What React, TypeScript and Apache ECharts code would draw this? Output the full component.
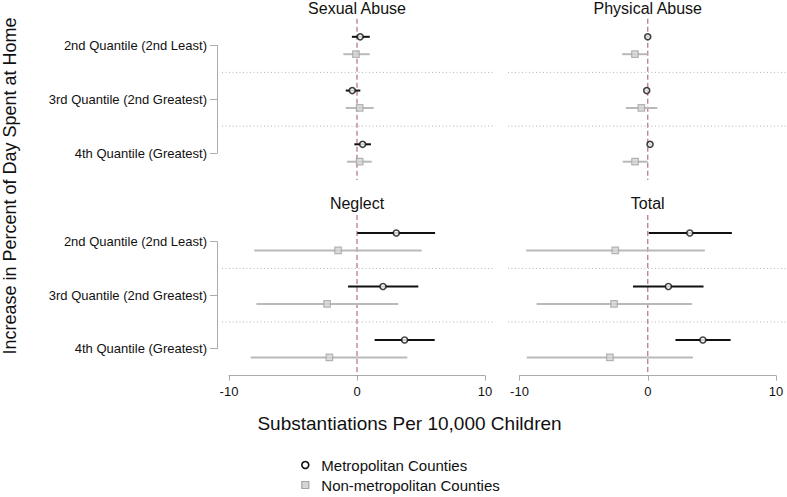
import React, { useEffect, useRef } from 'react';
import * as echarts from 'echarts';

const rowLabels = ['2nd Quantile (2nd Least)', '3rd Quantile (2nd Greatest)', '4th Quantile (Greatest)'];
const panelTitles = ['Sexual Abuse', 'Physical Abuse', 'Neglect', 'Total'];
const xTicks = [-10, 0, 10];
const seriesNames = ['Metropolitan Counties', 'Non-metropolitan Counties'];
const separators = [0.5, 1.5];

// [estimate, lower, upper] for each quantile row
const sexualMetro = [[0.25, -0.4, 1.0], [-0.37, -0.88, 0.26], [0.44, -0.21, 1.09]];
const sexualNonMetro = [[-0.08, -1.07, 0.99], [0.21, -0.88, 1.3], [0.21, -0.78, 1.15]];
const physicalMetro = [[0.0, -0.12, 0.12], [-0.08, -0.2, 0.05], [0.18, 0.06, 0.3]];
const physicalNonMetro = [[-1.0, -2.0, 0.0], [-0.5, -1.7, 0.75], [-0.99, -1.95, 0.0]];
const neglectMetro = [[3.07, 0.02, 6.1], [2.03, -0.7, 4.79], [3.72, 1.38, 6.07]];
const neglectNonMetro = [[-1.48, -8.02, 5.05], [-2.34, -7.86, 3.23], [-2.16, -8.3, 3.93]];
const totalMetro = [[3.28, 0.08, 6.56], [1.61, -1.15, 4.35], [4.3, 2.16, 6.46]];
const totalNonMetro = [[-2.53, -9.48, 4.45], [-2.63, -8.67, 3.46], [-2.95, -9.43, 3.52]];

const FONT = '"Liberation Sans", Arial, Helvetica, sans-serif';

export default function App() {
  const ref = useRef<HTMLDivElement>(null);
  useEffect(() => {
    const chart = echarts.init(ref.current!, null, { renderer: 'svg' });
    const panels = [
      { metro: sexualMetro, non: sexualNonMetro },
      { metro: physicalMetro, non: physicalNonMetro },
      { metro: neglectMetro, non: neglectNonMetro },
      { metro: totalMetro, non: totalNonMetro },
    ];
    const grids = [
      { left: 229, top: 45.5, width: 256, height: 107.5 },
      { left: 519.5, top: 45.5, width: 256.5, height: 107.5 },
      { left: 229, top: 241.7, width: 256, height: 107 },
      { left: 519.5, top: 241.7, width: 256.5, height: 107 },
    ];
    const sepExt = [[7, 8], [11.5, 11], [7, 8], [11.5, 11]];
    const xMin = xTicks[0];
    const xMax = xTicks[xTicks.length - 1];
    const off = 8.7;
    const metroColor = '#111';
    const nonLine = '#b9b9b9';
    const nonBorder = '#a4a4a4';
    const nonFill = '#d6d6d6';

    const xAxis = grids.map((g, i) => ({
      gridIndex: i,
      type: 'value',
      min: xMin,
      max: xMax,
      interval: 10,
      show: i >= 2,
      position: 'bottom',
      offset: 27,
      axisLine: { show: true, onZero: false, lineStyle: { color: '#ababab', width: 1 } },
      axisTick: { show: true, length: 5, lineStyle: { color: '#ababab' } },
      axisLabel: { fontSize: 13, color: '#111', fontFamily: FONT, margin: 9 },
      splitLine: { show: false },
    }));
    const yAxis = grids.map((g, i) => ({
      gridIndex: i,
      type: 'value',
      min: 0,
      max: 2,
      interval: 1,
      inverse: true,
      show: i % 2 === 0,
      position: 'left',
      offset: 12,
      axisLine: { show: true, onZero: false, lineStyle: { color: '#ababab', width: 1 } },
      axisTick: { show: true, length: 7, lineStyle: { color: '#ababab' } },
      axisLabel: {
        fontSize: 13, color: '#111', fontFamily: FONT, margin: 10,
        formatter: (v: number) => rowLabels[Math.round(v)] ?? '',
      },
      splitLine: { show: false },
    }));

    const series: any[] = [];
    panels.forEach((p, i) => {
      series.push({
        type: 'custom', xAxisIndex: i, yAxisIndex: i, silent: true, z: 1,
        data: [[0, -0.5, 2.5]],
        encode: { x: 0, y: [1, 2] },
        renderItem: (params: any, api: any) => {
          const a = api.coord([api.value(0), api.value(1)]);
          const b = api.coord([api.value(0), api.value(2)]);
          return {
            type: 'line',
            shape: { x1: a[0], y1: a[1], x2: b[0], y2: b[1] },
            style: { stroke: '#b9789a', lineWidth: 1.3, lineDash: [5, 3] },
          };
        },
      });
      series.push({
        type: 'custom', xAxisIndex: i, yAxisIndex: i, silent: true, z: 1,
        data: separators.map((s) => [xMin, xMax, s]),
        encode: { x: [0, 1], y: 2 },
        renderItem: (params: any, api: any) => {
          const a = api.coord([api.value(0), api.value(2)]);
          const b = api.coord([api.value(1), api.value(2)]);
          return {
            type: 'line',
            shape: { x1: a[0] - sepExt[i][0], y1: a[1], x2: b[0] + sepExt[i][1], y2: b[1] },
            style: { stroke: '#b4b4b4', lineWidth: 1, lineDash: [1, 2.5] },
          };
        },
      });
      const groups = [
        { name: seriesNames[0], rows: p.metro, dy: -off, line: metroColor },
        { name: seriesNames[1], rows: p.non, dy: off, line: nonLine },
      ];
      groups.forEach((g, gi) => {
        series.push({
          type: 'custom', name: g.name, xAxisIndex: i, yAxisIndex: i, silent: true, z: 2,
          data: g.rows.map((r, ri) => [r[1], r[2], ri]),
          encode: { x: [0, 1], y: 2 },
          renderItem: (params: any, api: any) => {
            const a = api.coord([api.value(0), api.value(2)]);
            const b = api.coord([api.value(1), api.value(2)]);
            return {
              type: 'line',
              shape: { x1: a[0], y1: a[1] + g.dy, x2: b[0], y2: b[1] + g.dy },
              style: { stroke: g.line, lineWidth: 2 },
            };
          },
        });
        series.push({
          type: 'scatter', name: g.name, xAxisIndex: i, yAxisIndex: i, z: 3, clip: false,
          data: g.rows.map((r, ri) => [r[0], ri]),
          symbol: gi === 0 ? 'circle' : 'rect',
          symbolSize: gi === 0 ? 6 : 6.5,
          symbolOffset: [0, g.dy],
          itemStyle: gi === 0
            ? { color: '#fff', borderColor: metroColor, borderWidth: 1.6 }
            : { color: nonFill, borderColor: nonBorder, borderWidth: 1.2 },
        });
      });
    });

    const titlePos = [
      [grids[0].left + grids[0].width / 2, 8],
      [grids[1].left + grids[1].width / 2, 8],
      [grids[2].left + grids[2].width / 2, 203],
      [grids[3].left + grids[3].width / 2, 203],
    ];

    const option: any = {
      animation: false,
      backgroundColor: '#fff',
      grid: grids.map((g) => ({ ...g, containLabel: false })),
      xAxis,
      yAxis,
      series,
      legend: {
        orient: 'vertical',
        left: 301,
        top: 457.5,
        height: 40,
        padding: 0,
        itemWidth: 22,
        itemHeight: 7,
        itemGap: 5,
        selectedMode: false,
        textStyle: { fontSize: 15, color: '#111', fontFamily: FONT },
        data: [
          { name: seriesNames[0], icon: 'circle', itemStyle: { color: '#fff', borderColor: metroColor, borderWidth: 1.6 } },
          { name: seriesNames[1], icon: 'path://M0,0h10v10h-10z', itemStyle: { color: nonFill, borderColor: nonBorder, borderWidth: 1.2 } },
        ],
      },
      graphic: [
        ...panelTitles.map((t, i) => ({
          type: 'text', x: titlePos[i][0], y: titlePos[i][1],
          style: { text: t, fontSize: 16, fill: '#111', fontFamily: FONT, align: 'center', verticalAlign: 'middle' },
        })),
        {
          type: 'text', x: 409.5, y: 423,
          style: { text: 'Substantiations Per 10,000 Children', fontSize: 19, fill: '#111', fontFamily: FONT, align: 'center', verticalAlign: 'middle' },
        },
        {
          type: 'text', x: 10, y: 186, rotation: Math.PI / 2,
          style: { text: 'Increase in Percent of Day Spent at Home', fontSize: 18, fill: '#111', fontFamily: FONT, align: 'center', verticalAlign: 'middle' },
        },
      ],
    };
    chart.setOption(option);
    return () => chart.dispose();
  }, []);
  return <div ref={ref} style={{ position: 'fixed', left: 0, top: 0, width: 787, height: 497 }} />;
}
